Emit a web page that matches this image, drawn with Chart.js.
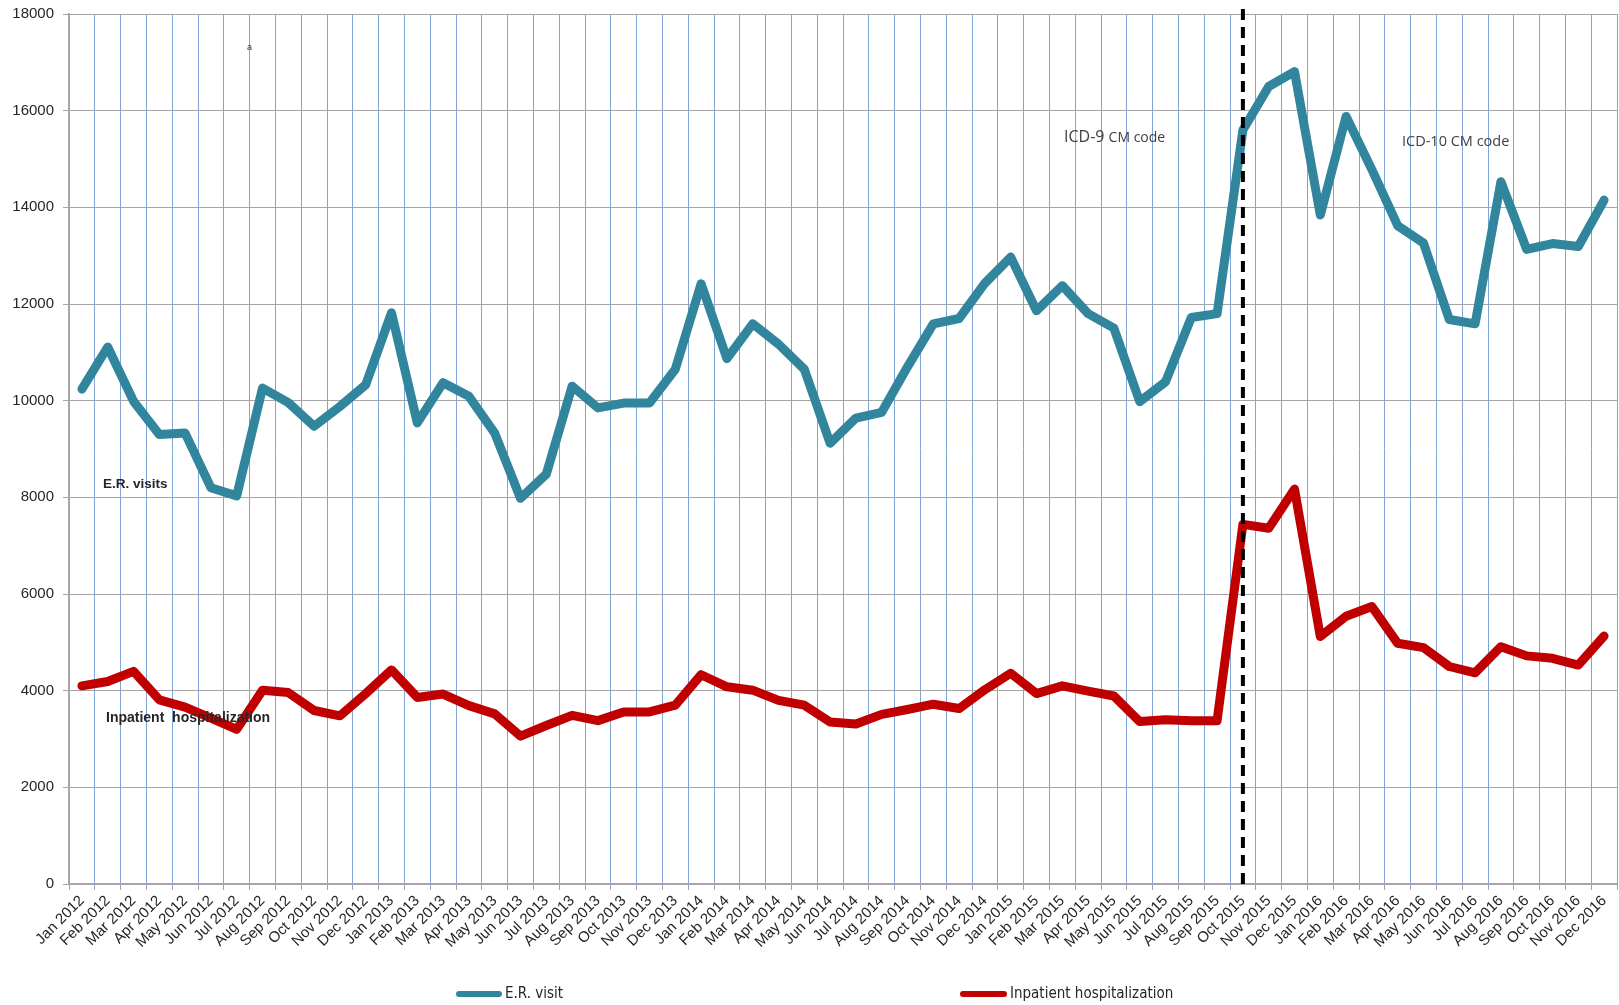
<!DOCTYPE html>
<html>
<head>
<meta charset="utf-8">
<script src="https://cdn.jsdelivr.net/npm/chart.js@4.4.1/dist/chart.umd.min.js"></script>
<style>
  html, body { margin: 0; padding: 0; background: #ffffff; }
  #wrap { width: 1619px; height: 1005px; position: relative; }
</style>
</head>
<body>
<div id="wrap"><canvas id="c" width="1619" height="1005"></canvas></div>
<script>
// ---------- DATA ----------
const monthLabels = [
  'Jan 2012','Feb 2012','Mar 2012','Apr 2012','May 2012','Jun 2012','Jul 2012','Aug 2012','Sep 2012','Oct 2012','Nov 2012','Dec 2012',
  'Jan 2013','Feb 2013','Mar 2013','Apr 2013','May 2013','Jun 2013','Jul 2013','Aug 2013','Sep 2013','Oct 2013','Nov 2013','Dec 2013',
  'Jan 2014','Feb 2014','Mar 2014','Apr 2014','May 2014','Jun 2014','Jul 2014','Aug 2014','Sep 2014','Oct 2014','Nov 2014','Dec 2014',
  'Jan 2015','Feb 2015','Mar 2015','Apr 2015','May 2015','Jun 2015','Jul 2015','Aug 2015','Sep 2015','Oct 2015','Nov 2015','Dec 2015',
  'Jan 2016','Feb 2016','Mar 2016','Apr 2016','May 2016','Jun 2016','Jul 2016','Aug 2016','Sep 2016','Oct 2016','Nov 2016','Dec 2016'
];

const erVisits = [
  10240, 11110, 9990, 9300, 9330, 8200, 8030, 10260, 9960, 9470, 9880, 10330,
  11820, 9540, 10370, 10090, 9330, 7980, 8480, 10300, 9850, 9950, 9950, 10650,
  12420, 10870, 11590, 11170, 10650, 9120, 9640, 9760, 10700, 11590, 11700, 12430,
  12970, 11860, 12380, 11800, 11500, 9980, 10390, 11720, 11800, 15600, 16500, 16810,
  13840, 15880, 14780, 13620, 13260, 11680, 11590, 14530, 13130, 13250, 13190, 14150
];

const inpatient = [
  4100, 4190, 4400, 3810, 3660, 3430, 3200, 4010, 3960, 3590, 3480, 3940,
  4430, 3860, 3930, 3690, 3520, 3060, 3280, 3490, 3380, 3560, 3560, 3700,
  4330, 4080, 4010, 3800, 3700, 3350, 3310, 3510, 3610, 3720, 3630, 4020,
  4360, 3940, 4100, 3990, 3890, 3360, 3400, 3380, 3380, 7440, 7360, 8170,
  5120, 5540, 5740, 4980, 4890, 4500, 4370, 4910, 4720, 4670, 4530, 5130
];

const seriesNames = ['E.R. visit', 'Inpatient hospitalization'];
const seriesColors = ['#31859C', '#C00000'];
const codeSwitchLabel = 'Oct 2015';
const yTicksMax = 18000;
const yTicksStep = 2000;

// ---------- OVERLAY PLUGIN ----------
const overlay = {
  id: 'overlay',
  afterDatasetsDraw(chart) {
    const { ctx, scales: { x }, chartArea } = chart;
    ctx.save();
    // dashed separator between ICD-9 and ICD-10 periods
    const xs = x.getPixelForValue(monthLabels.indexOf(codeSwitchLabel));
    ctx.strokeStyle = '#000000';
    ctx.lineWidth = 4;
    ctx.setLineDash([11, 7]);
    ctx.beginPath();
    ctx.moveTo(xs, chartArea.top - 5);
    ctx.lineTo(xs, chartArea.bottom + 4);
    ctx.stroke();
    ctx.setLineDash([]);

    // annotations
    ctx.textBaseline = 'middle';
    ctx.textAlign = 'left';
    ctx.fillStyle = '#262626';
    ctx.font = 'bold 13.5px "Liberation Sans", Arial, sans-serif';
    ctx.fillText('E.R. visits', 103, 484);
    ctx.font = 'bold 14px "Liberation Sans", Arial, sans-serif';
    ctx.fillText('Inpatient  hospitalization', 106, 718);

    ctx.fillStyle = '#404040';
    ctx.font = '16px "Open Sans", "Liberation Sans", sans-serif';
    ctx.fillText('ICD-9', 1064, 137);
    let w = ctx.measureText('ICD-9 ').width;
    ctx.font = '14px "Open Sans", "Liberation Sans", sans-serif';
    ctx.fillText('CM code', 1064 + w, 138);

    ctx.font = '14.5px "Open Sans", "Liberation Sans", sans-serif';
    ctx.fillText('ICD-10 CM code', 1402, 142);

    ctx.font = '9px "Liberation Sans", sans-serif';
    ctx.fillText('a', 247, 48);
    ctx.restore();
  },
  afterDraw(chart) {
    const { ctx } = chart;
    const items = [
      { x: 456, lineW: 46 },
      { x: 960, lineW: 47 }
    ];
    ctx.save();
    ctx.textBaseline = 'middle';
    ctx.textAlign = 'left';
    ctx.font = '15px "Liberation Sans Narrow", "Arial Narrow", "DejaVu Sans Condensed", sans-serif';
    items.forEach((it, i) => {
      const ly = 994;
      ctx.strokeStyle = chart.data.datasets[i].borderColor;
      ctx.lineWidth = 6;
      ctx.lineCap = 'round';
      ctx.beginPath();
      ctx.moveTo(it.x + 3, ly);
      ctx.lineTo(it.x + it.lineW - 3, ly);
      ctx.stroke();
      ctx.fillStyle = '#262626';
      ctx.fillText(chart.data.datasets[i].label, it.x + it.lineW + 3, ly);
    });
    ctx.restore();
  }
};

// ---------- CHART ----------
new Chart(document.getElementById('c'), {
  type: 'line',
  data: {
    labels: monthLabels,
    datasets: [
      {
        label: seriesNames[0],
        data: erVisits,
        borderColor: seriesColors[0],
        backgroundColor: seriesColors[0],
        borderWidth: 9,
        pointRadius: 0,
        pointHoverRadius: 0,
        tension: 0,
        borderJoinStyle: 'round',
        borderCapStyle: 'round'
      },
      {
        label: seriesNames[1],
        data: inpatient,
        borderColor: seriesColors[1],
        backgroundColor: seriesColors[1],
        borderWidth: 9,
        pointRadius: 0,
        pointHoverRadius: 0,
        tension: 0,
        borderJoinStyle: 'round',
        borderCapStyle: 'round'
      }
    ]
  },
  options: {
    responsive: false,
    animation: false,
    devicePixelRatio: 1,
    layout: { padding: { left: 0, right: 2, top: 14, bottom: 0 } },
    plugins: {
      legend: { display: false },
      tooltip: { enabled: false },
      title: { display: false }
    },
    scales: {
      x: {
        type: 'category',
        offset: true,
        grid: {
          offset: true,
          color: '#7EA5D8',
          lineWidth: 1,
          drawTicks: true,
          tickLength: 6,
          tickColor: '#A6A6A6'
        },
        border: { color: '#A6A6A6', width: 2 },
        ticks: {
          autoSkip: false,
          minRotation: 45,
          maxRotation: 45,
          padding: 2,
          color: '#262626',
          font: { family: '"Liberation Sans", Arial, sans-serif', size: 15 }
        },
        afterFit(scale) { scale.height = 121; scale.paddingRight = 0; }
      },
      y: {
        min: 0,
        max: yTicksMax,
        grid: {
          color: '#A6A6A6',
          lineWidth: 1,
          tickLength: 6,
          tickColor: '#A6A6A6'
        },
        border: { color: '#A6A6A6', width: 2 },
        ticks: {
          stepSize: yTicksStep,
          padding: 9,
          color: '#262626',
          font: { family: '"Liberation Sans", Arial, sans-serif', size: 15 },
          callback: (v) => String(v)
        },
        afterFit(scale) { scale.width = 69; scale.paddingTop = 0; scale.paddingBottom = 0; }
      }
    }
  },
  plugins: [overlay]
});
</script>
</body>
</html>
